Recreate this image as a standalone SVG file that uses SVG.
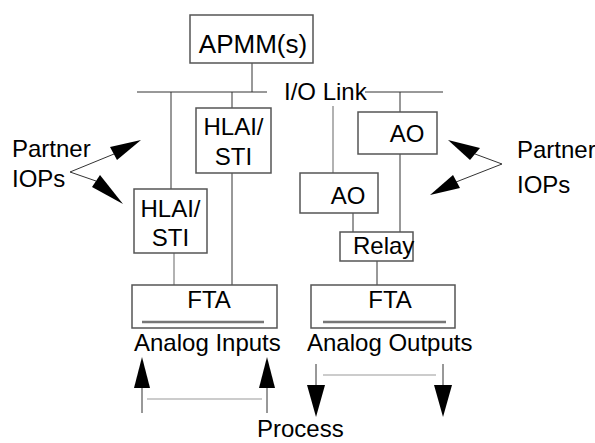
<svg xmlns="http://www.w3.org/2000/svg" width="595" height="443" viewBox="0 0 595 443">
<style>
text{font-family:"Liberation Sans",Arial,sans-serif;font-size:24px;fill:#000}
.c{text-anchor:middle}
.box{fill:#fff;stroke:#555;stroke-width:1.5}
.ln{stroke:#333;stroke-width:1;fill:none}
.lg{stroke:#999;stroke-width:1.5;fill:none}
.inner{stroke:#777;stroke-width:2.5}
.faint{stroke:#ccc;stroke-width:2}
.ah{fill:#000}
</style>
<rect width="595" height="443" fill="#fff"/>
<g id="connectors">
<line class="ln" x1="252" y1="63" x2="252" y2="92"/>
<line class="ln" x1="137" y1="92" x2="267" y2="92"/>
<line class="ln" x1="365" y1="92" x2="443" y2="92"/>
<line class="ln" x1="171" y1="92" x2="171" y2="189"/>
<line class="ln" x1="232" y1="92" x2="232" y2="285"/>
<line class="lg" x1="174" y1="253" x2="174" y2="285"/>
<line class="lg" x1="333" y1="106" x2="333" y2="173"/>
<line class="ln" x1="400" y1="92" x2="400" y2="232"/>
<line class="ln" x1="353" y1="213" x2="353" y2="232"/>
<line class="ln" x1="377" y1="261" x2="377" y2="285"/>
<line class="ln" x1="70" y1="172" x2="114" y2="154"/>
<polygon class="ah" points="141,140 110,147 117,160"/>
<line class="ln" x1="70" y1="172" x2="96" y2="181"/>
<polygon class="ah" points="123,204 92,187 100,175"/>
<line class="ln" x1="502" y1="164" x2="475" y2="154"/>
<polygon class="ah" points="448,140 470,160 480,148"/>
<line class="ln" x1="502" y1="164" x2="456" y2="182"/>
<polygon class="ah" points="430,195 453,175 460,188"/>
<line class="ln" x1="142" y1="413" x2="142" y2="388"/>
<polygon class="ah" points="142,357 134,388 150,388"/>
<line class="ln" x1="267" y1="413" x2="267" y2="388"/>
<polygon class="ah" points="267,357 259,388 275,388"/>
<line class="faint" x1="147" y1="399" x2="262" y2="399"/>
<line class="ln" x1="316" y1="364" x2="316" y2="386"/>
<polygon class="ah" points="316,417 307,385 325,385"/>
<line class="ln" x1="443" y1="364" x2="443" y2="386"/>
<polygon class="ah" points="443,417 434,385 452,385"/>
<line class="faint" x1="323" y1="375" x2="436" y2="375"/>
</g>
<g id="apmm">
<rect class="box" x="190" y="15" width="123" height="48"/>
<text class="c" x="253" y="53" style="font-size:26px">APMM(s)</text>
</g>
<g id="iolink">
<text x="284" y="100">I/O Link</text>
</g>
<g id="hlai1">
<rect class="box" x="196" y="108" width="75" height="65"/>
<text class="c" x="233.5" y="135">HLAI/</text>
<text class="c" x="233.5" y="165">STI</text>
</g>
<g id="hlai2">
<rect class="box" x="134" y="189" width="73" height="64"/>
<text class="c" x="170.5" y="217">HLAI/</text>
<text class="c" x="170.5" y="246">STI</text>
</g>
<g id="ao1">
<rect class="box" x="358" y="112" width="79" height="42"/>
<text class="c" x="407" y="142">AO</text>
</g>
<g id="ao2">
<rect class="box" x="300" y="173" width="78" height="40"/>
<text class="c" x="348" y="204">AO</text>
</g>
<g id="relay">
<rect class="box" x="340" y="232" width="73" height="29"/>
<text x="353" y="254">Relay</text>
</g>
<g id="fta-in">
<rect class="box" x="132" y="285" width="145" height="43"/>
<line class="inner" x1="142" y1="322" x2="264" y2="322"/>
<text class="c" x="209" y="308">FTA</text>
<text x="134" y="351">Analog Inputs</text>
</g>
<g id="fta-out">
<rect class="box" x="311" y="285" width="144" height="43"/>
<line class="inner" x1="323" y1="322" x2="446" y2="322"/>
<text class="c" x="390" y="308">FTA</text>
<text x="307" y="351">Analog Outputs</text>
</g>
<g id="partner-left">
<text x="12" y="157">Partner</text>
<text x="12" y="187">IOPs</text>
</g>
<g id="partner-right">
<text x="517" y="158">Partner</text>
<text x="517" y="193">IOPs</text>
</g>
<g id="process">
<text x="257" y="437">Process</text>
</g>
</svg>
